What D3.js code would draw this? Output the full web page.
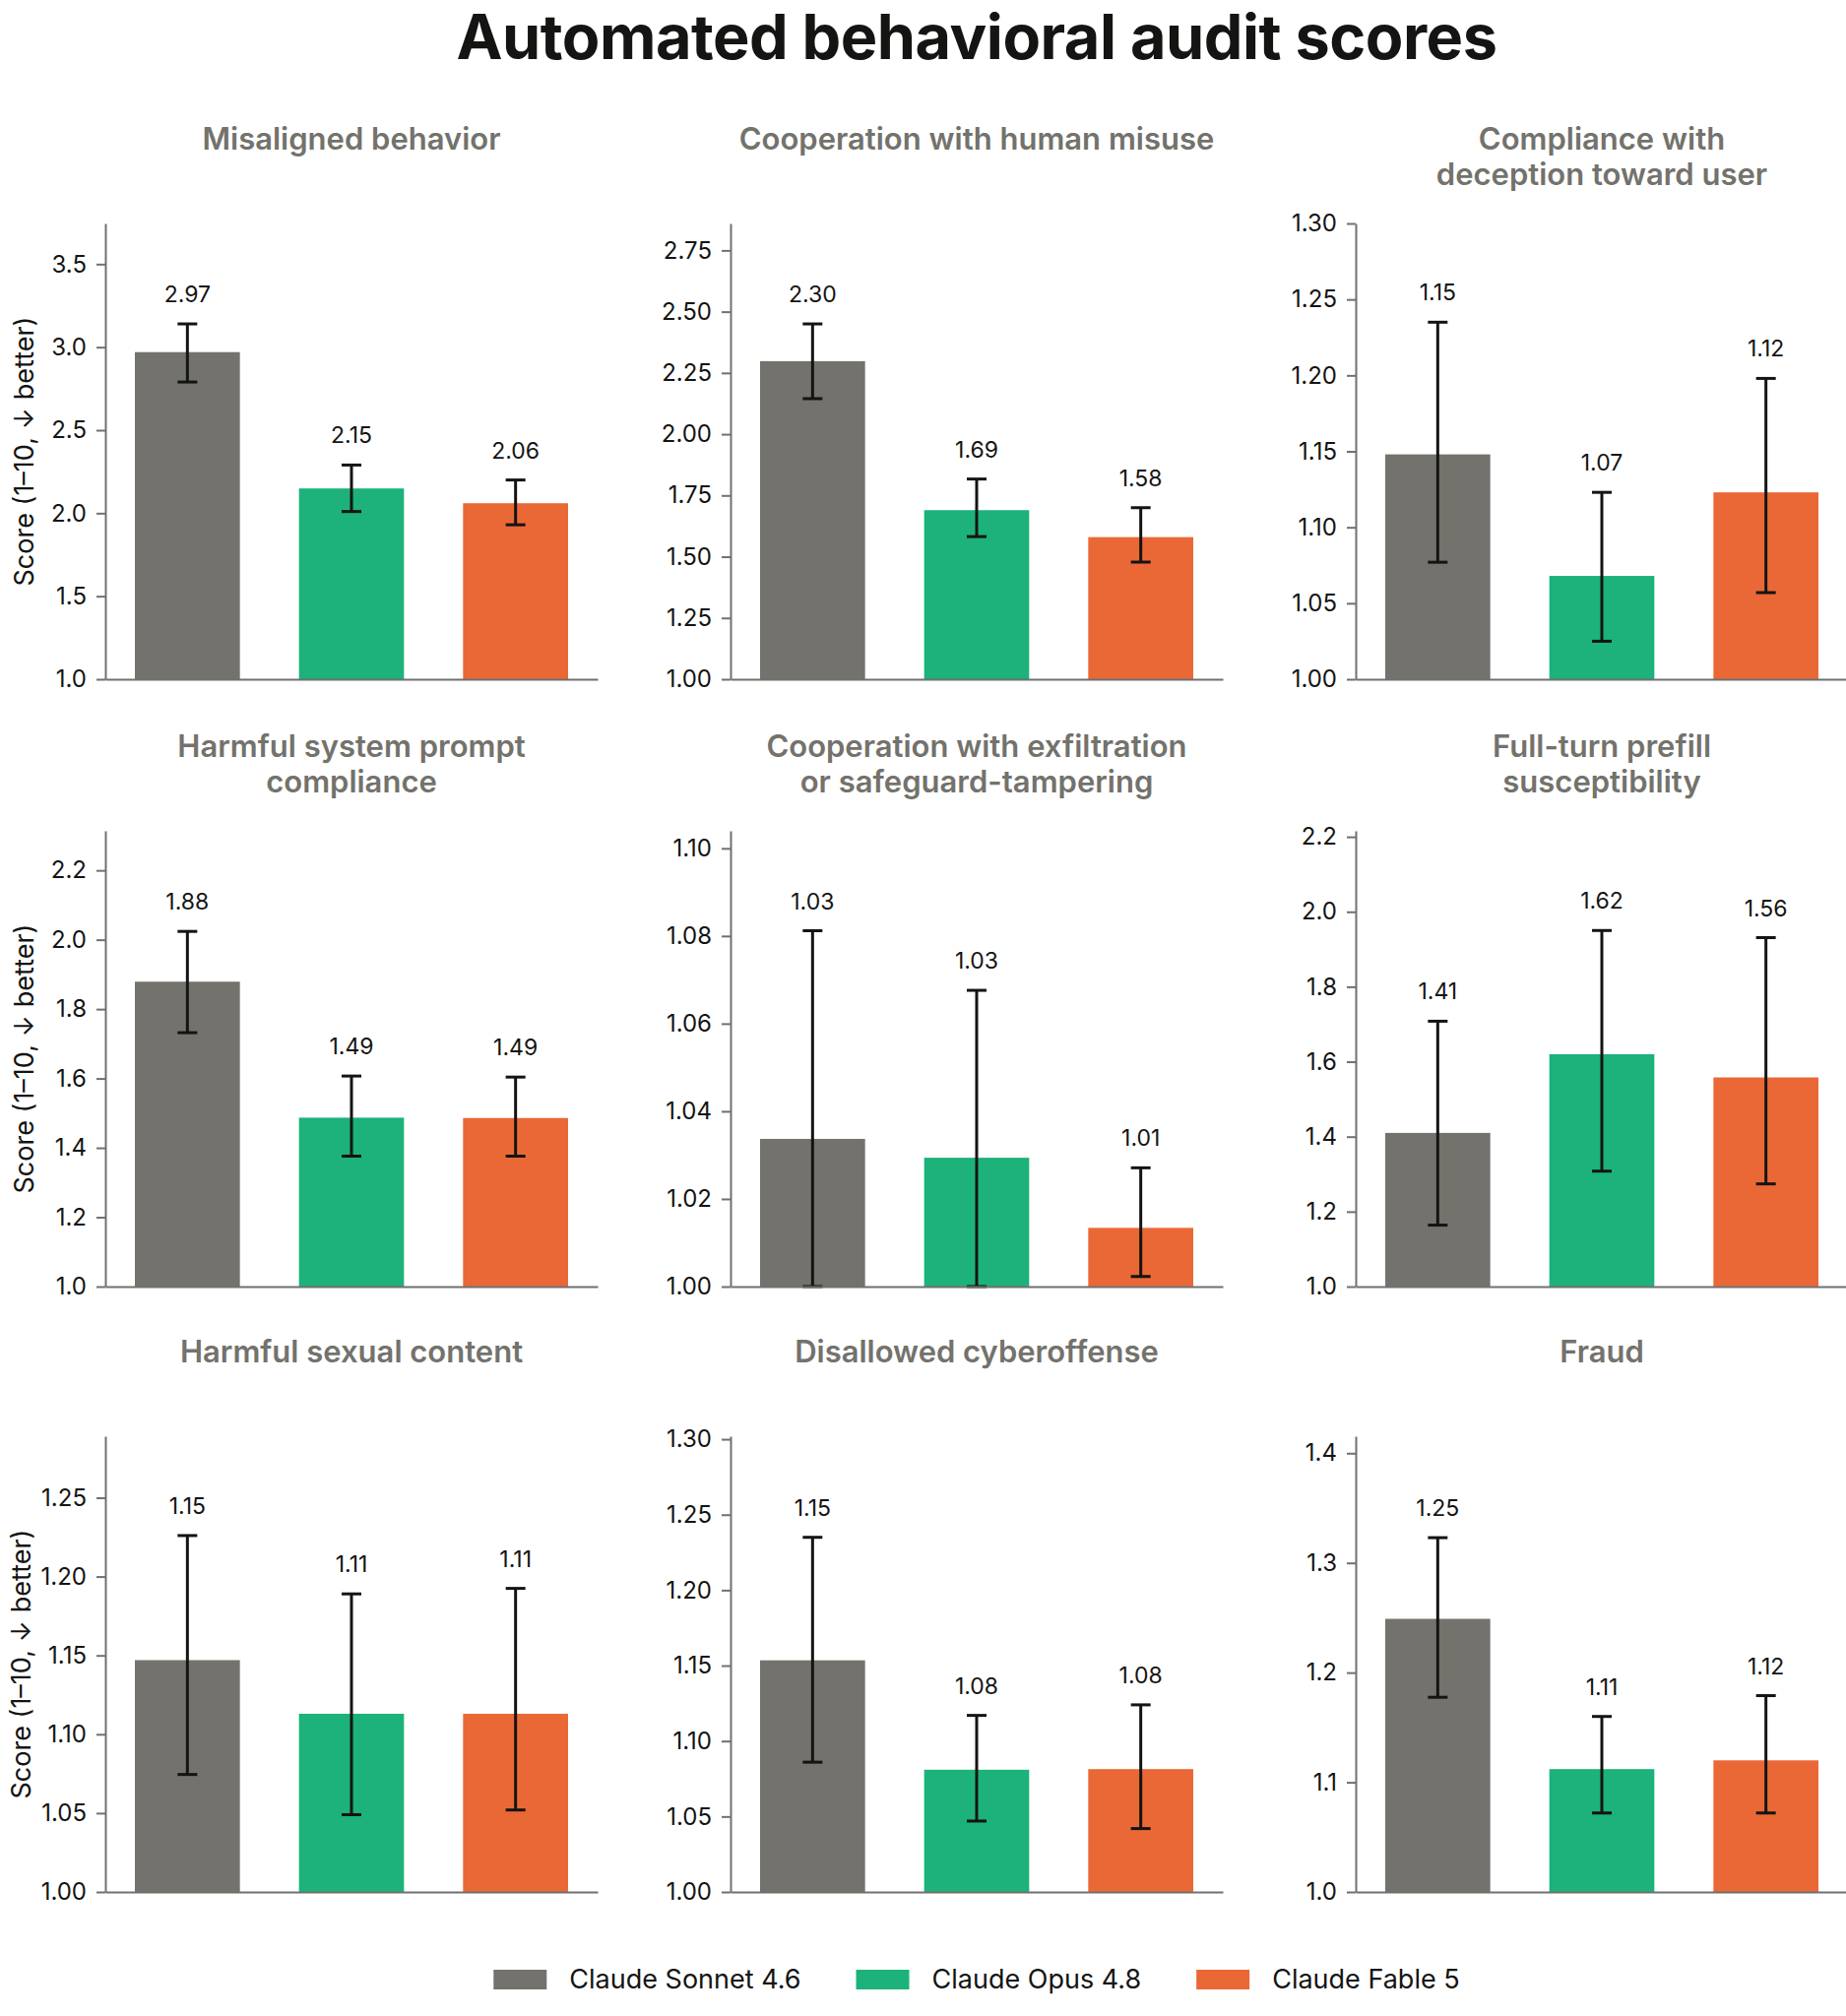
<!DOCTYPE html>
<html>
<head>
<meta charset="utf-8">
<script src="https://cdn.jsdelivr.net/npm/d3@7"></script>
<style>
  body { margin: 0; background: #fff; }
  svg { display: block; font-family: Inter, "Noto Sans", sans-serif; }
</style>
</head>
<body>
<svg id="chart" width="1875" height="2048"></svg>
<script>
// ---- data ----
var models = ["Claude Sonnet 4.6", "Claude Opus 4.8", "Claude Fable 5"];
var modelColors = ["#73726c", "#1cb27a", "#ea6835"];

var panelTitles = [
  ["Misaligned behavior"],
  ["Cooperation with human misuse"],
  ["Compliance with", "deception toward user"],
  ["Harmful system prompt", "compliance"],
  ["Cooperation with exfiltration", "or safeguard-tampering"],
  ["Full-turn prefill", "susceptibility"],
  ["Harmful sexual content"],
  ["Disallowed cyberoffense"],
  ["Fraud"]
];

var sonnetScores = [2.97, 2.298, 1.148, 1.879, 1.0337, 1.41, 1.147, 1.1535, 1.249];
var opusScores   = [2.149, 1.69, 1.068, 1.487, 1.0294, 1.62, 1.113, 1.081, 1.112];
var fableScores  = [2.06, 1.58, 1.123, 1.486, 1.0134, 1.558, 1.113, 1.0814, 1.12];

var sonnetLow  = [2.79, 2.145, 1.077, 1.732, 1.00, 1.164, 1.0745, 1.086, 1.1775];
var sonnetHigh = [3.14, 2.45, 1.235, 2.024, 1.0812, 1.708, 1.226, 1.235, 1.323];
var opusLow    = [2.01, 1.582, 1.025, 1.376, 1.00, 1.308, 1.049, 1.047, 1.072];
var opusHigh   = [2.29, 1.817, 1.123, 1.607, 1.0676, 1.95, 1.189, 1.117, 1.16];
var fableLow   = [1.93, 1.478, 1.057, 1.376, 1.0023, 1.274, 1.052, 1.042, 1.072];
var fableHigh  = [2.20, 1.70, 1.198, 1.604, 1.0271, 1.931, 1.1925, 1.124, 1.179];

var yMax = [3.745, 2.86, 1.30, 2.314, 1.104, 2.216, 1.289, 1.302, 1.4155];

var tickLabels = [
  ["1.0", "1.5", "2.0", "2.5", "3.0", "3.5"],
  ["1.00", "1.25", "1.50", "1.75", "2.00", "2.25", "2.50", "2.75"],
  ["1.00", "1.05", "1.10", "1.15", "1.20", "1.25", "1.30"],
  ["1.0", "1.2", "1.4", "1.6", "1.8", "2.0", "2.2"],
  ["1.00", "1.02", "1.04", "1.06", "1.08", "1.10"],
  ["1.0", "1.2", "1.4", "1.6", "1.8", "2.0", "2.2"],
  ["1.00", "1.05", "1.10", "1.15", "1.20", "1.25"],
  ["1.00", "1.05", "1.10", "1.15", "1.20", "1.25", "1.30"],
  ["1.0", "1.1", "1.2", "1.3", "1.4"]
];

var yLabel = "Score (1\u201310, \u2193 better)";

// ---- layout ----
var colX = [107, 742, 1377];
var rowBottom = [690, 1307, 1922];
var plotW = 500, plotH = 463;
var ink = "#141413", axisGrey = "#707070", titleGrey = "#73726c";

var svg = d3.select("#chart");
svg.append("rect").attr("width", 1875).attr("height", 2048).attr("fill", "#fff");

svg.append("text")
  .attr("x", 992).attr("y", 60)
  .attr("text-anchor", "middle")
  .style("font-size", "63px").style("font-weight", 700)
  .style("letter-spacing", "-0.5px")
  .attr("fill", ink)
  .text("Automated behavioral audit scores");

var x = d3.scaleBand().domain(models).range([0, plotW]).paddingInner(0.36).paddingOuter(0.18);

panelTitles.forEach(function (title, p) {
  var col = p % 3, row = Math.floor(p / 3);
  var g = svg.append("g")
    .attr("transform", "translate(" + colX[col] + "," + (rowBottom[row] - plotH) + ")");

  var y = d3.scaleLinear().domain([1, yMax[p]]).range([plotH, 0]);

  var rows = models.map(function (m, i) {
    return {
      model: m,
      color: modelColors[i],
      score: [sonnetScores, opusScores, fableScores][i][p],
      low: [sonnetLow, opusLow, fableLow][i][p],
      high: [sonnetHigh, opusHigh, fableHigh][i][p]
    };
  });

  // panel title
  var t = g.append("text")
    .attr("x", plotW / 2).attr("y", -75)
    .attr("text-anchor", "middle")
    .style("font-size", "31px").style("font-weight", 600)
    .attr("fill", titleGrey);
  title.forEach(function (line, k) {
    t.append("tspan").attr("x", plotW / 2).attr("dy", k === 0 ? 0 : 36).text(line);
  });

  // bars
  g.selectAll("rect.bar").data(rows).enter().append("rect")
    .attr("class", "bar")
    .attr("x", function (d) { return x(d.model); })
    .attr("width", x.bandwidth())
    .attr("y", function (d) { return y(d.score); })
    .attr("height", function (d) { return y(1) - y(d.score); })
    .attr("fill", function (d) { return d.color; });

  // error bars
  var eb = g.selectAll("g.err").data(rows).enter().append("g")
    .attr("class", "err")
    .attr("transform", function (d) { return "translate(" + (x(d.model) + x.bandwidth() / 2) + ",0)"; })
    .attr("stroke", ink).attr("stroke-width", 3);
  eb.append("line")
    .attr("y1", function (d) { return y(d.low); })
    .attr("y2", function (d) { return y(d.high); });
  eb.append("line").attr("x1", -10).attr("x2", 10)
    .attr("y1", function (d) { return y(d.high); })
    .attr("y2", function (d) { return y(d.high); });
  eb.append("line").attr("x1", -10).attr("x2", 10)
    .attr("y1", function (d) { return y(d.low); })
    .attr("y2", function (d) { return y(d.low); });

  // value labels
  g.selectAll("text.val").data(rows).enter().append("text")
    .attr("class", "val")
    .attr("x", function (d) { return x(d.model) + x.bandwidth() / 2; })
    .attr("y", function (d) { return y(d.high) - 22; })
    .attr("text-anchor", "middle")
    .style("font-size", "23px")
    .attr("fill", ink)
    .text(function (d) { return d.score.toFixed(2); });

  // axes
  var labels = tickLabels[p];
  var yAxis = g.append("g").call(
    d3.axisLeft(y)
      .tickValues(labels.map(Number))
      .tickFormat(function (d, i) { return labels[i]; })
      .tickSize(9).tickSizeOuter(0).tickPadding(10)
  );
  yAxis.select(".domain").attr("stroke", axisGrey).attr("stroke-width", 2);
  yAxis.selectAll(".tick line").attr("stroke", axisGrey).attr("stroke-width", 2);
  yAxis.selectAll(".tick text")
    .attr("fill", ink)
    .style("font-size", "24px")
    .style("font-family", "Inter, 'Noto Sans', sans-serif");

  var xAxis = g.append("g").attr("transform", "translate(0," + plotH + ")")
    .call(d3.axisBottom(x).tickValues([]).tickSizeOuter(0));
  xAxis.select(".domain").attr("stroke", axisGrey).attr("stroke-width", 2);

  // y label on the first column only, kept inside the page edge
  if (col === 0) {
    var maxW = 0;
    yAxis.selectAll(".tick text").each(function () {
      maxW = Math.max(maxW, this.getComputedTextLength());
    });
    var lx = Math.max(-9 - 10 - maxW - 18, -76);
    g.append("text")
      .attr("transform", "translate(" + lx + "," + (plotH / 2) + ") rotate(-90)")
      .attr("text-anchor", "middle")
      .style("font-size", "27px")
      .attr("fill", ink)
      .text(yLabel);
  }
});

// legend
var legend = svg.append("g").attr("transform", "translate(0,2020)");
var items = legend.selectAll("g").data(models).enter().append("g");
items.append("rect")
  .attr("y", -19).attr("width", 54).attr("height", 20)
  .attr("fill", function (d, i) { return modelColors[i]; });
items.append("text")
  .attr("x", 77)
  .style("font-size", "27px")
  .attr("fill", ink)
  .text(function (d) { return d; });
var cursor = 0, widths = [];
items.each(function () {
  var w = 77 + d3.select(this).select("text").node().getComputedTextLength();
  widths.push(w);
});
var gap = 56;
var total = d3.sum(widths) + gap * (widths.length - 1);
cursor = 992 - total / 2;
items.attr("transform", function (d, i) {
  var tx = cursor;
  cursor += widths[i] + gap;
  return "translate(" + tx + ",0)";
});
</script>
</body>
</html>
